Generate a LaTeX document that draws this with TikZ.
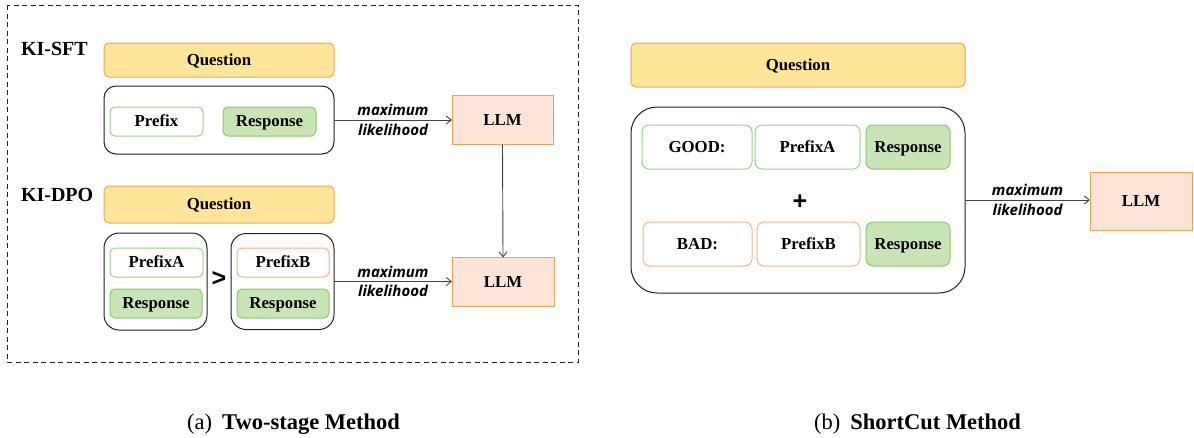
\documentclass[tikz,border=0pt]{standalone}
\usepackage{fontspec}
\setmainfont{Liberation Serif}
\newfontfamily\edgefont{Open Sans}
\newfontfamily\symfont{Liberation Sans}
\usetikzlibrary{arrows.meta}

\definecolor{qfill}{HTML}{FFE599}
\definecolor{qdraw}{HTML}{F2A254}
\definecolor{llmfill}{HTML}{FCE5D6}
\definecolor{llmdraw}{HTML}{F0A05A}
\definecolor{rfill}{HTML}{C9E5B8}
\definecolor{rdraw}{HTML}{8CC76E}
\definecolor{gdraw}{HTML}{9AD283}
\definecolor{odraw}{HTML}{F5B286}
\definecolor{framecol}{HTML}{222222}
\definecolor{linkcol}{HTML}{444444}

\tikzset{
  every node/.style={inner sep=0pt, outer sep=0pt},
  boxtext/.style={font=\fontsize{16.8}{19}\selectfont\bfseries, text height=11pt, text depth=1pt},
  question/.style={boxtext, draw=qdraw, fill=qfill, line width=1pt, rounded corners=5pt},
  holder/.style={draw=framecol, line width=1pt},
  goodbox/.style={boxtext, draw=gdraw, fill=white, line width=1pt, rounded corners=5pt},
  badbox/.style={boxtext, draw=odraw, fill=white, line width=1pt, rounded corners=5pt},
  respbox/.style={boxtext, draw=rdraw, fill=rfill, line width=1pt, rounded corners=5pt},
  llmbox/.style={boxtext, draw=llmdraw, fill=llmfill, line width=1pt},
  methodtag/.style={font=\fontsize{20}{24}\selectfont\bfseries, anchor=west},
  link/.style={draw=linkcol, line width=0.9pt, -{Straight Barb[length=5pt,width=8pt]}},
  mltext/.style={font=\fontsize{15}{19.5}\selectfont\edgefont\bfseries\itshape, align=center},
  relsym/.style={font=\fontsize{25}{26}\selectfont\symfont\bfseries},
  caption/.style={font=\fontsize{22.5}{26}\selectfont},
}

\begin{document}
\begin{tikzpicture}[x=1pt, y=-1pt]
\useasboundingbox (0,0) rectangle (1194,437);

% ---------- (a) two-stage method ----------
\draw[framecol, line width=1pt, dash pattern=on 5pt off 3.5pt] (7,5) rectangle (578,362);

\node[methodtag] (sft) at (21,49) {KI-SFT};
\node[question, minimum width=230pt, minimum height=34pt] (q1) at (219,60) {Question};
\node[holder, rounded corners=12pt, minimum width=230pt, minimum height=68pt] (c1) at (219,120) {};
\node[goodbox, minimum width=93pt, minimum height=29pt] (pre) at (156.5,121.5) {Prefix};
\node[respbox, minimum width=93pt, minimum height=29pt] (r1) at (269.5,121.5) {Response};
\node[llmbox, minimum width=101pt, minimum height=49pt] (llm1) at (502.5,120) {LLM};
\draw[link] (c1.east) -- (c1.east -| llm1.west)
  node[mltext, midway] {maximum\\likelihood};

\node[methodtag] (dpo) at (21,195) {KI-DPO};
\node[question, minimum width=230pt, minimum height=37pt] (q2) at (219,204.5) {Question};
\node[holder, rounded corners=15pt, minimum width=103pt, minimum height=97pt] (ca) at (155.5,281.5) {};
\node[goodbox, minimum width=93pt, minimum height=29pt] (pa) at (156.5,262.5) {PrefixA};
\node[respbox, minimum width=92pt, minimum height=29pt] (ra) at (156,303.5) {Response};
\node[relsym] (gt) at (219,279) {>};
\node[holder, rounded corners=15pt, minimum width=103pt, minimum height=96pt] (cb) at (282.5,281.5) {};
\node[badbox, minimum width=92pt, minimum height=29pt] (pb) at (283,262.5) {PrefixB};
\node[respbox, minimum width=92pt, minimum height=29pt] (rb) at (283,303.5) {Response};
\node[llmbox, minimum width=102pt, minimum height=49pt] (llm2) at (503,282) {LLM};
\draw[link] (cb.east) -- (cb.east -| llm2.west)
  node[mltext, midway] {maximum\\likelihood};
\draw[link] (llm1.south) -- (llm2.north);

% ---------- (b) shortcut method ----------
\node[question, minimum width=334pt, minimum height=44pt] (q3) at (798,65) {Question};
\node[holder, rounded corners=26pt, minimum width=334pt, minimum height=186pt] (c3) at (798,200) {};
\node[goodbox, rounded corners=7pt, minimum width=110pt, minimum height=44pt] (good) at (697,147) {GOOD:};
\node[goodbox, rounded corners=7pt, minimum width=105pt, minimum height=44pt] (pa3) at (807.5,147) {PrefixA};
\node[respbox, rounded corners=7pt, minimum width=84pt, minimum height=44pt] (ra3) at (908,147) {Response};
\node[relsym] (plus) at (800,202) {+};
\node[badbox, rounded corners=7pt, minimum width=109pt, minimum height=44pt] (bad) at (697.5,244) {BAD:};
\node[badbox, rounded corners=7pt, minimum width=103pt, minimum height=44pt] (pb3) at (808.5,244) {PrefixB};
\node[respbox, rounded corners=7pt, minimum width=84pt, minimum height=44pt] (rb3) at (908,244) {Response};
\node[llmbox, minimum width=102pt, minimum height=58pt] (llm3) at (1141,201) {LLM};
\draw[link] (c3.east) -- (c3.east -| llm3.west)
  node[mltext, midway] {maximum\\likelihood};

% ---------- captions ----------
\node[caption] (capa) at (293.5,424) {(a)\hspace{0.45em}\textbf{Two-stage Method}};
\node[caption] (capb) at (917.5,424) {(b)\hspace{0.45em}\textbf{ShortCut Method}};
\end{tikzpicture}
\end{document}
